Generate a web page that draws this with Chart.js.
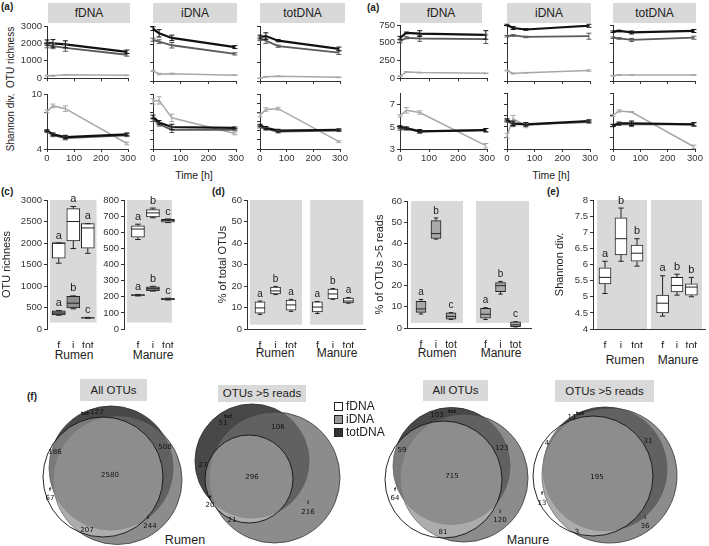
<!DOCTYPE html>
<html>
<head>
<meta charset="utf-8">
<script src="https://cdn.jsdelivr.net/npm/chart.js@4.4.1/dist/chart.umd.min.js"></script>
<style>
body { margin: 0; background: #fff; }
#fig { position: relative; width: 709px; height: 546px; overflow: hidden; font-family: "Liberation Sans", Arial, sans-serif; color: #222; }
#fig canvas { position: absolute; }
.t { position: absolute; white-space: nowrap; transform: translate(-50%, -50%); }
.hdr { position: absolute; background: #d9d9d9; text-align: center; }
.pl { position: absolute; font-weight: bold; font-size: 10px; }
.sq { position: absolute; width: 7px; height: 7px; border: 1px solid #222; }
</style>
</head>
<body>
<div id="fig">
  <div class="pl" style="left:1px;top:1px">(a)</div>
  <div class="pl" style="left:367px;top:2px">(a)</div>
  <div class="pl" style="left:1px;top:186px">(c)</div>
  <div class="pl" style="left:212px;top:186px">(d)</div>
  <div class="pl" style="left:547px;top:186px">(e)</div>
  <div class="pl" style="left:27px;top:391px">(f)</div>

  <div class="hdr" style="left:48px;top:3px;width:82px;height:20px;line-height:20px;font-size:12px">fDNA</div>
  <div class="hdr" style="left:153px;top:3px;width:84px;height:20px;line-height:20px;font-size:12px">iDNA</div>
  <div class="hdr" style="left:260px;top:3px;width:85px;height:20px;line-height:20px;font-size:12px">totDNA</div>
  <div class="hdr" style="left:400px;top:3px;width:82px;height:20px;line-height:20px;font-size:12px">fDNA</div>
  <div class="hdr" style="left:507px;top:3px;width:84px;height:20px;line-height:20px;font-size:12px">iDNA</div>
  <div class="hdr" style="left:613px;top:3px;width:83px;height:20px;line-height:20px;font-size:12px">totDNA</div>

  <div class="t" style="left:10px;top:89px;font-size:10px;transform:translate(-50%,-50%) rotate(-90deg)">Shannon div.&nbsp; OTU richness</div>
  <div class="t" style="left:194px;top:175px;font-size:10.5px">Time [h]</div>
  <div class="t" style="left:551px;top:175px;font-size:10.5px">Time [h]</div>

  <div class="t" style="left:74px;top:355px;font-size:12px">Rumen</div>
  <div class="t" style="left:153px;top:355px;font-size:12px">Manure</div>
  <div class="t" style="left:275px;top:353px;font-size:12px">Rumen</div>
  <div class="t" style="left:337px;top:353px;font-size:12px">Manure</div>
  <div class="t" style="left:437px;top:353px;font-size:12px">Rumen</div>
  <div class="t" style="left:501px;top:353px;font-size:12px">Manure</div>
  <div class="t" style="left:625px;top:360px;font-size:12px">Rumen</div>
  <div class="t" style="left:678px;top:360px;font-size:12px">Manure</div>

  <div class="hdr" style="left:80px;top:379px;width:67px;height:22px;line-height:22px;font-size:11.5px">All OTUs</div>
  <div class="hdr" style="left:218px;top:385px;width:88px;height:17px;line-height:17px;font-size:11.5px">OTUs &gt;5 reads</div>
  <div class="hdr" style="left:423px;top:380px;width:65px;height:21px;line-height:21px;font-size:11.5px">All OTUs</div>
  <div class="hdr" style="left:555px;top:380px;width:99px;height:22px;line-height:22px;font-size:11.5px">OTUs &gt;5 reads</div>
  <div class="t" style="left:185px;top:540px;font-size:12.5px">Rumen</div>
  <div class="t" style="left:528px;top:540px;font-size:12.5px">Manure</div>
</div>
<script>
Chart.defaults.font.family = '"Liberation Sans", Arial, sans-serif';
Chart.defaults.color = '#222';

// ---------- data: (a) time courses, series = [black, dark grey, light grey] ----------
const times = [0, 22, 68, 296];

const rumRichF = [[2050, 2000, 1950, 1520], [1900, 1850, 1750, 1350], [150, 150, 200, 170]];
const rumRichFErr = [[150, 220, 200, 100], [150, 150, 200, 80], [30, 30, 20, 20]];
const rumRichI = [[2850, 2600, 2350, 1850], [2250, 2150, 1950, 1480], [550, 380, 400, 320]];
const rumRichIErr = [[100, 200, 150, 80], [80, 100, 150, 60], [30, 40, 30, 20]];
const rumRichT = [[2400, 2450, 2200, 1750], [2300, 2200, 1900, 1550], [150, 230, 260, 200]];
const rumRichTErr = [[100, 180, 60, 100], [100, 150, 60, 100], [20, 20, 20, 20]];

const rumShanF = [[6.0, 5.6, 5.3, 5.6], [5.9, 5.5, 5.2, 5.5], [8.1, 8.7, 8.4, 4.6]];
const rumShanFErr = [[0.1, 0.15, 0.2, 0.15], [0.1, 0.15, 0.2, 0.15], [0.15, 0.2, 0.3, 0.15]];
const rumShanI = [[7.5, 6.9, 6.4, 6.3], [7.2, 6.7, 6.1, 6.1], [9.2, 9.3, 7.4, 5.7]];
const rumShanIErr = [[0.2, 0.2, 0.3, 0.1], [0.2, 0.2, 0.3, 0.1], [0.3, 0.4, 0.4, 0.15]];
const rumShanT = [[6.6, 6.3, 6.0, 6.1], [6.4, 6.2, 5.9, 6.0], [7.7, 8.3, 8.4, 4.8]];
const rumShanTErr = [[0.1, 0.15, 0.15, 0.1], [0.1, 0.15, 0.15, 0.1], [0.2, 0.2, 0.15, 0.1]];

const manRichF = [[570, 640, 630, 610], [520, 570, 560, 550], [30, 90, 80, 70]];
const manRichFErr = [[20, 10, 40, 60], [20, 15, 40, 60], [5, 5, 5, 5]];
const manRichI = [[750, 710, 690, 740], [600, 610, 590, 600], [140, 100, 110, 140]];
const manRichIErr = [[10, 20, 10, 20], [10, 10, 10, 40], [5, 5, 5, 10]];
const manRichT = [[660, 670, 650, 670], [580, 570, 550, 580], [70, 80, 80, 80]];
const manRichTErr = [[10, 10, 20, 20], [10, 10, 20, 20], [5, 5, 5, 5]];

const manShanF = [[5.0, 4.9, 4.6, 4.7], [4.8, 4.8, 4.6, 4.7], [6.0, 6.5, 6.3, 3.3]];
const manShanFErr = [[0.1, 0.1, 0.15, 0.15], [0.1, 0.1, 0.15, 0.15], [0.1, 0.25, 0.15, 0.2]];
const manShanI = [[5.6, 5.3, 5.2, 5.5], [5.5, 5.2, 5.2, 5.4], [4.2, 5.7, 5.1, 5.5]];
const manShanIErr = [[0.1, 0.2, 0.15, 0.1], [0.1, 0.2, 0.15, 0.1], [0.2, 0.3, 0.2, 0.1]];
const manShanT = [[5.1, 5.3, 5.3, 5.2], [5.1, 5.2, 5.2, 5.2], [6.0, 6.4, 6.3, 3.2]];
const manShanTErr = [[0.1, 0.1, 0.2, 0.15], [0.1, 0.1, 0.2, 0.15], [0.1, 0.1, 0.05, 0.15]];

// ---------- data: box plots (lo whisker, q1, median, q3, hi whisker) ----------
const boxLabels = ['f', 'i', 'tot'];
const cRumAll = { lo: [1530, 1870, 1760], q1: [1650, 2050, 1880], med: [2000, 2500, 2350], q3: [2000, 2800, 2450], hi: [2000, 2850, 2450], let: ['a', 'a', 'a'] };
const cRumAb5 = { lo: [320, 470, 250], q1: [330, 490, 252], med: [370, 600, 260], q3: [420, 760, 268], hi: [430, 770, 270], let: ['a', 'b', 'c'] };
const cManAll = { lo: [555, 690, 660], q1: [570, 695, 662], med: [620, 720, 672], q3: [640, 740, 680], hi: [650, 750, 682], let: ['a', 'b', 'c'] };
const cManAb5 = { lo: [205, 235, 180], q1: [207, 238, 182], med: [210, 250, 185], q3: [213, 262, 190], hi: [214, 265, 191], let: ['a', 'b', 'c'] };

const dPctTotal = { lo: [6.8, 16, 8.2, 7.2, 13.8, 12], q1: [7.4, 16.3, 8.8, 7.9, 14, 12.1], med: [9.8, 17.7, 11.2, 10.2, 16.3, 13], q3: [12.6, 19.5, 13.5, 12.6, 18.6, 14.4], hi: [13, 19.8, 13.8, 12.8, 18.8, 14.6], let: ['a', 'b', 'a', 'a', 'b', 'a'] };
const dPctAb5 = { lo: [6.6, 42, 4, 4, 16, 0.5], q1: [7.4, 42.3, 4.2, 4.6, 17.2, 0.6], med: [9, 44.6, 5.5, 6.5, 20, 1.5], q3: [12.6, 50.7, 7.2, 9.3, 21.4, 2.9], hi: [13.5, 52, 7.3, 9.6, 22, 3], let: ['a', 'b', 'c', 'a', 'b', 'c'] };
const eShannon = { lo: [5.1, 6.1, 5.95, 4.4, 5.05, 5.0], q1: [5.4, 6.3, 6.1, 4.5, 5.15, 5.05], med: [5.6, 6.8, 6.35, 4.8, 5.35, 5.3], q3: [5.9, 7.45, 6.6, 5.05, 5.6, 5.4], hi: [6.1, 7.75, 6.8, 5.65, 5.7, 5.6], let: ['a', 'b', 'b', 'a', 'b', 'b'] };

// ---------- data: Venn diagrams, circles [cx, cy, r] in order f, i, tot ----------
const vennRumAll = [[-10, 2, 60], [4.5, 5, 64.5], [-2, -7, 62]];
const vennRumAb5 = [[-19, 4, 44], [6.5, 2.5, 65.5], [-16, -14, 57]];
const vennManAll = [[-12.5, 4.5, 58.5], [8, 3, 64], [-4.5, -9, 58.5]];
const vennManAb5 = [[-12, 1, 60], [4.5, 0.5, 67.5], [0, -6, 62]];
// region counts: f only, i only, tot only, f&i, f&tot, i&tot, all
const cntRumAll = [67, 244, 127, 207, 186, 508, 2580];
const cntRumAb5 = [20, 216, 51, 21, 27, 106, 296];
const cntManAll = [64, 120, 103, 81, 59, 123, 715];
const cntManAb5 = [13, 36, 11, 3, 4, 31, 195];

// ---------- helpers ----------
const fig = document.getElementById('fig');
const tickGrid = { display: true, drawOnChartArea: false, drawTicks: true, tickLength: 3, color: '#333' };
const axBorder = { display: true, color: '#333', width: 1 };
const lineCols = ['#111', '#5a5a5a', '#a8a8a8'];
const lineW = [2.2, 1.8, 1.5];

function addCanvas(bx, by, bw, bh) {
  const cv = document.createElement('canvas');
  cv.width = bw; cv.height = bh;
  cv.style.left = bx + 'px'; cv.style.top = by + 'px';
  cv.style.width = bw + 'px'; cv.style.height = bh + 'px';
  fig.appendChild(cv);
  return cv;
}

function makeChart(box, area, cfg) {
  const [bx, by, bw, bh] = box, [al, at, ar, ab] = area;
  const cv = addCanvas(bx, by, bw, bh);
  const o = cfg.options;
  o.responsive = false;
  o.animation = false;
  o.layout = { padding: { left: 0, top: at - by, right: bx + bw - ar, bottom: 0 } };
  o.scales.x.afterFit = s => { s.height = by + bh - ab; };
  o.scales.y.afterFit = s => { s.width = al - bx; };
  o.plugins = Object.assign({ legend: { display: false }, tooltip: { enabled: false } }, o.plugins || {});
  return new Chart(cv, cfg);
}

function errPlugin(errs) {
  return {
    id: 'errbars',
    afterDatasetsDraw(ch) {
      const ctx = ch.ctx, ys = ch.scales.y;
      for (let k = ch.data.datasets.length - 1; k >= 0; k--) {
        const ds = ch.data.datasets[k];
        ctx.save();
        ctx.strokeStyle = ds.borderColor;
        ctx.lineWidth = 1;
        ch.getDatasetMeta(k).data.forEach((pt, i) => {
          const v = ds.data[i].y, e = errs[k][i];
          const y1 = ys.getPixelForValue(v - e), y2 = ys.getPixelForValue(v + e);
          ctx.beginPath();
          ctx.moveTo(pt.x, y1); ctx.lineTo(pt.x, y2);
          ctx.moveTo(pt.x - 2.5, y1); ctx.lineTo(pt.x + 2.5, y1);
          ctx.moveTo(pt.x - 2.5, y2); ctx.lineTo(pt.x + 2.5, y2);
          ctx.stroke();
        });
        ctx.restore();
      }
    }
  };
}

// one small time-course panel
function aPanel(col, rowArea, canvasY, first, showX, vals, errs, yr) {
  const x0 = first ? col[0] - 42 : col[0] - 7;
  const box = [x0, canvasY[0], col[1] + 10 - x0, canvasY[1] - canvasY[0]];
  const area = [col[0], rowArea[0], col[1], rowArea[1]];
  makeChart(box, area, {
    type: 'line',
    data: {
      datasets: vals.map((s, k) => ({
        data: s.map((v, i) => ({ x: times[i], y: v })),
        borderColor: lineCols[k], borderWidth: lineW[k], pointRadius: 0, tension: 0
      }))
    },
    options: {
      scales: {
        x: { type: 'linear', min: 0, max: 300,
             ticks: { stepSize: 100, display: showX, font: { size: 9.5 }, padding: 1, maxRotation: 0, color: '#333' },
             grid: tickGrid, border: axBorder },
        y: { min: yr[0], max: yr[1],
             ticks: { stepSize: yr[2], display: first, font: { size: 9.5 }, padding: 2, color: '#333',
                      callback: v => yr[3].includes(v) ? String(v) : '' },
             grid: tickGrid, border: axBorder }
      }
    },
    plugins: [errPlugin(errs)]
  });
}

const colL = [[47, 128], [153, 236], [260, 340]];
const colR = [[400, 487], [507, 590], [613, 695]];
const rumRichY = [0, 3000, 1000, [0, 1000, 2000, 3000]];
const rumShanY = [4, 10, 1, [4, 7, 10]];
const manRichY = [0, 750, 250, [0, 250, 500, 750]];
const manShanY = [3, 8, 1, [3, 5, 7]];

[[rumRichF, rumRichFErr], [rumRichI, rumRichIErr], [rumRichT, rumRichTErr]].forEach((d, c) =>
  aPanel(colL[c], [26, 81], [16, 86], c === 0, false, d[0], d[1], rumRichY));
[[rumShanF, rumShanFErr], [rumShanI, rumShanIErr], [rumShanT, rumShanTErr]].forEach((d, c) =>
  aPanel(colL[c], [94, 149], [86, 168], c === 0, true, d[0], d[1], rumShanY));
[[manRichF, manRichFErr], [manRichI, manRichIErr], [manRichT, manRichTErr]].forEach((d, c) =>
  aPanel(colR[c], [25, 81], [15, 86], c === 0, false, d[0], d[1], manRichY));
[[manShanF, manShanFErr], [manShanI, manShanIErr], [manShanT, manShanTErr]].forEach((d, c) =>
  aPanel(colR[c], [93, 149], [86, 168], c === 0, true, d[0], d[1], manShanY));

// ---------- box plot panels ----------
function bgPlugin(rects) {
  return {
    id: 'bgpanels',
    beforeDatasetsDraw(ch) {
      const { ctx, scales: { x, y } } = ch;
      ctx.save();
      ctx.fillStyle = '#d9d9d9';
      rects.forEach(([a, b, c, d]) => {
        const px0 = x.getPixelForValue(a), px1 = x.getPixelForValue(b);
        const py0 = y.getPixelForValue(d), py1 = y.getPixelForValue(c);
        ctx.fillRect(px0, py0, px1 - px0, py1 - py0);
      });
      ctx.restore();
    }
  };
}

function boxPlugin(sets, letterSize) {
  return {
    id: 'boxextras',
    afterDatasetsDraw(ch) {
      const ctx = ch.ctx, ys = ch.scales.y;
      sets.forEach((s, k) => {
        ctx.save();
        ctx.strokeStyle = '#222';
        ctx.lineWidth = 1;
        ch.getDatasetMeta(k).data.forEach((el, i) => {
          const x = el.x, hw = el.width / 2, cap = el.width * 0.22;
          const yl = ys.getPixelForValue(s.lo[i]), y1 = ys.getPixelForValue(s.q1[i]);
          const ym = ys.getPixelForValue(s.med[i]), y3 = ys.getPixelForValue(s.q3[i]);
          const yh = ys.getPixelForValue(s.hi[i]);
          ctx.beginPath();
          ctx.moveTo(x, y1); ctx.lineTo(x, yl);
          ctx.moveTo(x - cap, yl); ctx.lineTo(x + cap, yl);
          ctx.moveTo(x, y3); ctx.lineTo(x, yh);
          ctx.moveTo(x - cap, yh); ctx.lineTo(x + cap, yh);
          ctx.moveTo(x - hw, ym); ctx.lineTo(x + hw, ym);
          ctx.stroke();
          ctx.fillStyle = '#222';
          ctx.font = letterSize + 'px "Liberation Sans", Arial, sans-serif';
          ctx.textAlign = 'center';
          ctx.textBaseline = 'bottom';
          ctx.fillText(s.let[i], x, yh - 2);
        });
        ctx.restore();
      });
    }
  };
}

function boxPanel(box, area, p) {
  makeChart(box, area, {
    type: 'bar',
    data: {
      datasets: p.sets.map((s, k) => ({
        data: p.pos.map((v, i) => ({ x: v, y: [s.q1[i], s.q3[i]] })),
        backgroundColor: p.fills[k], borderColor: '#222', borderWidth: 1,
        borderSkipped: false, barThickness: p.bw, grouped: false
      }))
    },
    options: {
      scales: {
        x: { type: 'linear', min: p.xr[0], max: p.xr[1], offset: false,
             afterBuildTicks: s => { s.ticks = p.pos.map(v => ({ value: v })); },
             ticks: { autoSkip: false, maxRotation: 0, padding: 3, font: { size: 10.5 },
                      callback: (v, i) => boxLabels[i % 3] },
             grid: { display: false, offset: false }, border: { display: p.xLine, color: '#333' } },
        y: { min: p.yr[0], max: p.yr[1],
             ticks: { stepSize: p.yr[2], font: { size: 9.5 }, padding: 2, color: '#333', callback: v => String(v) },
             title: { display: !!p.title, text: p.title, font: { size: 11 }, padding: 0 },
             grid: tickGrid, border: axBorder }
      }
    },
    plugins: [bgPlugin(p.bg), boxPlugin(p.sets, p.letter)]
  });
}

boxPanel([0, 188, 104, 160], [47, 200, 100, 329], {
  pos: [1, 2, 3], xr: [0.19, 3.84], yr: [0, 3000, 500], title: 'OTU richness',
  sets: [cRumAll, cRumAb5], fills: ['#ffffff', '#8f8f8f'], bw: 13, xLine: false,
  bg: [[0.4, 3.6, 150, 3000]], letter: 11
});
boxPanel([102, 188, 76, 160], [124, 200, 175, 329], {
  pos: [1, 2, 3], xr: [0.07, 3.47], yr: [0, 800, 100], title: '',
  sets: [cManAll, cManAb5], fills: ['#ffffff', '#8f8f8f'], bw: 13, xLine: false,
  bg: [[0.27, 3.27, 40, 800]], letter: 11
});
boxPanel([216, 188, 152, 160], [247, 200, 365, 329], {
  pos: [1, 2, 3, 4.7, 5.7, 6.7], xr: [0.16, 7.77], yr: [0, 60, 10], title: '% of total OTUs',
  sets: [dPctTotal], fills: ['#ffffff'], bw: 10, xLine: true,
  bg: [[0.35, 3.71, 2, 60], [4.23, 7.65, 2, 60]], letter: 10
});
boxPanel([373, 188, 161, 160], [407, 201, 531, 328], {
  pos: [1, 2, 3, 5.3, 6.3, 7.3], xr: [0.067, 8.33], yr: [0, 60, 10], title: '% of OTUs >5 reads',
  sets: [dPctAb5], fills: ['#a9a9a9'], bw: 10, xLine: true,
  bg: [[0.33, 3.8, 2.4, 60], [4.67, 8.2, 2.4, 60]], letter: 10
});
boxPanel([553, 188, 156, 160], [593, 200, 705, 329], {
  pos: [1, 2, 3, 4.6, 5.5, 6.4], xr: [0.25, 7.25], yr: [4, 8, 0.5], title: 'Shannon div.',
  sets: [eShannon], fills: ['#ffffff'], bw: 12, xLine: true,
  bg: [[0.5, 3.63, 4, 8], [3.88, 7.06, 4, 8]], letter: 11
});

// ---------- Venn diagrams ----------
const regionPos = {
  rumAll: [[-63, 23], [37, 51], [-16, -63], [-26, 55], [-58, -23], [52, -28], [-3, 0]],
  rumAb5: [[-58, 30], [40, 37], [-45, -52], [-36, 45], [-65, -10], [10, -48], [-16, 2]],
  manAll: [[-61, 23], [44, 45], [-19, -60], [-13, 57], [-54, -25], [46, -27], [-4, 1]],
  manAb5: [[-63, 28], [40, 51], [-33, -58], [-28, 57], [-58, -32], [43, -34], [-8, 2]]
};
const tagPos = {
  rumAll: [[-63, 15], [35, 43], [-28, -61]],
  rumAb5: [[-58, 23], [40, 28], [-40, -58]],
  manAll: [[-61, 15], [44, 37], [-4, -63]],
  manAb5: [[-63, 19], [40, 43], [-25, -61]]
};
// f on top (dataset 0 is drawn last), then i, then tot underneath
const vennFill = ['rgba(255,255,255,0.28)', 'rgba(106,106,106,0.77)', 'rgba(40,40,40,0.85)'];
const vennLine = ['#111', '#444', '#333'];

// axis units are 1:1 with pixels in these panels, so the radius is given in units
function vennPanel(cx, circles, counts, rPos, tPos) {
  const W = 150, H = 146;
  const cv = addCanvas(cx - W / 2, 475 - H / 2, W, H);
  new Chart(cv, {
    type: 'scatter',
    data: {
      datasets: circles.map((c, k) => ({
        data: [{ x: c[0], y: c[1] }],
        backgroundColor: vennFill[k], borderColor: vennLine[k], borderWidth: 0.9, clip: false,
        pointRadius: c[2], pointHoverRadius: c[2]
      }))
    },
    options: {
      responsive: false, animation: false,
      layout: { padding: 0, autoPadding: false },
      scales: {
        x: { type: 'linear', display: false, min: -W / 2, max: W / 2 },
        y: { type: 'linear', display: false, min: -H / 2, max: H / 2, reverse: true }
      },
      plugins: { legend: { display: false }, tooltip: { enabled: false } }
    },
    plugins: [{
      id: 'vennlabels',
      afterDatasetsDraw(ch) {
        const { ctx, scales: { x, y } } = ch;
        ctx.save();
        ctx.fillStyle = '#111';
        ctx.textAlign = 'center';
        ctx.textBaseline = 'middle';
        ctx.font = '7px "DejaVu Sans", sans-serif';
        counts.forEach((n, i) => ctx.fillText(String(n), x.getPixelForValue(rPos[i][0]), y.getPixelForValue(rPos[i][1])));
        ctx.font = 'bold 5px "DejaVu Sans", sans-serif';
        ['f', 'i', 'tot'].forEach((t, i) => ctx.fillText(t, x.getPixelForValue(tPos[i][0]), y.getPixelForValue(tPos[i][1])));
        ctx.restore();
      }
    }]
  });
}

vennPanel(113, vennRumAll, cntRumAll, regionPos.rumAll, tagPos.rumAll);
vennPanel(268, vennRumAb5, cntRumAb5, regionPos.rumAb5, tagPos.rumAb5);
vennPanel(456, vennManAll, cntManAll, regionPos.manAll, tagPos.manAll);
vennPanel(605, vennManAb5, cntManAb5, regionPos.manAb5, tagPos.manAb5);

// legend for (f)
[['fDNA', '#ffffff', 402], ['iDNA', '#999999', 415], ['totDNA', '#333333', 428]].forEach(([name, col, y]) => {
  const sq = document.createElement('div');
  sq.className = 'sq';
  sq.style.left = '334px'; sq.style.top = y + 'px'; sq.style.background = col;
  fig.appendChild(sq);
  const tx = document.createElement('div');
  tx.className = 't';
  tx.style.cssText = 'left:346px;top:' + (y + 4) + 'px;font-size:12px;transform:translate(0,-50%)';
  tx.textContent = name;
  fig.appendChild(tx);
});
</script>
</body>
</html>
